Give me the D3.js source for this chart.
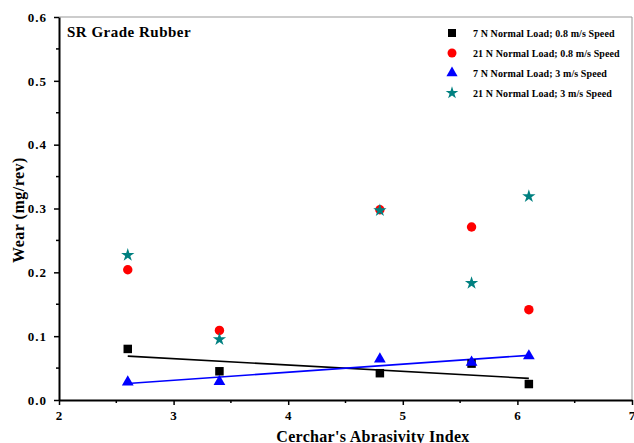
<!DOCTYPE html>
<html><head><meta charset="utf-8">
<script src="https://cdn.jsdelivr.net/npm/d3@7"></script>
<style>body{margin:0;background:#fff}svg{display:block}text{font-family:"Liberation Serif","Times New Roman",serif;font-weight:bold}</style>
</head><body>
<svg id="c" width="634" height="443"></svg>
<script>
const cai = [2.6, 3.4, 4.8, 5.6, 6.1];
const load7_08 = [0.080, 0.045, 0.042, 0.057, 0.025];
const load21_08 = [0.204, 0.109, 0.298, 0.271, 0.1415];
const load7_3 = [0.028, 0.029, 0.064, 0.059, 0.069];
const load21_3 = [0.227, 0.095, 0.297, 0.183, 0.319];
const xTicks = [2, 3, 4, 5, 6, 7];
const yTicks = [0.0, 0.1, 0.2, 0.3, 0.4, 0.5, 0.6];
const seriesNames = ["7 N Normal Load; 0.8 m/s Speed", "21 N Normal Load; 0.8 m/s Speed", "7 N Normal Load; 3 m/s Speed", "21 N Normal Load; 3 m/s Speed"];

const svg = d3.select("#c");
const L = 59, R = 632, T = 17, B = 400;
const x = d3.scaleLinear().domain([2, 7]).range([L, R]);
const y = d3.scaleLinear().domain([0, 0.6]).range([B, T]);

// frame top/right
svg.append("line").attr("x1", L).attr("x2", R).attr("y1", T).attr("y2", T).attr("stroke", "#999").attr("stroke-width", 1);
svg.append("line").attr("x1", R).attr("x2", R).attr("y1", T).attr("y2", B).attr("stroke", "#999").attr("stroke-width", 1);

// minor ticks
const g = svg.append("g");
d3.range(2.5, 7, 1).forEach(v => g.append("line").attr("x1", x(v)).attr("x2", x(v)).attr("y1", B).attr("y2", B + 3).attr("stroke", "#000").attr("stroke-width", 1.5));
d3.range(0.05, 0.6, 0.1).forEach(v => g.append("line").attr("x1", L).attr("x2", L - 3).attr("y1", y(v)).attr("y2", y(v)).attr("stroke", "#000").attr("stroke-width", 1.5));

const xa = svg.append("g").attr("transform", `translate(0,${B})`)
  .call(d3.axisBottom(x).tickValues(xTicks).tickFormat(d3.format("d")).tickSize(5).tickSizeOuter(0).tickPadding(6));
const ya = svg.append("g").attr("transform", `translate(${L},0)`)
  .call(d3.axisLeft(y).tickValues(yTicks).tickFormat(d3.format(".1f")).tickSize(5).tickSizeOuter(0).tickPadding(7));
[xa, ya].forEach(a => {
  a.select(".domain").attr("stroke", "#000").attr("stroke-width", 2);
  a.selectAll(".tick line").attr("stroke", "#000").attr("stroke-width", 1.5);
  a.selectAll("text").attr("font-family", "Liberation Serif, serif").attr("font-weight", "bold").attr("font-size", 13).attr("letter-spacing", 1).attr("fill", "#000");
});

// axis titles
svg.append("text").attr("x", 373).attr("y", 442).attr("text-anchor", "middle").attr("font-size", 16).attr("letter-spacing", 0.3).text("Cerchar's Abrasivity Index");
svg.append("text").attr("transform", "translate(24,210) rotate(-90)").attr("text-anchor", "middle").attr("font-size", 16).attr("letter-spacing", 0.5).text("Wear (mg/rev)");
svg.append("text").attr("x", 67).attr("y", 37).attr("font-size", 15).attr("letter-spacing", 0.5).text("SR Grade Rubber");

// linear fits
function fit(xs, ys) {
  const mx = d3.mean(xs), my = d3.mean(ys);
  const sxy = d3.sum(xs.map((v, i) => (v - mx) * (ys[i] - my)));
  const sxx = d3.sum(xs.map(v => (v - mx) ** 2));
  const b = sxy / sxx, a = my - b * mx;
  const x0 = d3.min(xs), x1 = d3.max(xs);
  return [[x0, a + b * x0], [x1, a + b * x1]];
}
const line = d3.line().x(d => x(d[0])).y(d => y(d[1]));
svg.append("path").attr("d", line(fit(cai, load7_08))).attr("stroke", "#000").attr("stroke-width", 1.6).attr("fill", "none");
svg.append("path").attr("d", line(fit(cai, load7_3))).attr("stroke", "#0000ff").attr("stroke-width", 1.6).attr("fill", "none");

const syms = [
  {data: load7_08, type: d3.symbolSquare, size: 72, color: "#000"},
  {data: load21_08, type: d3.symbolCircle, size: 70, color: "#ff0000"},
  {data: load7_3, type: d3.symbolTriangle, size: 60, color: "#0000ff"},
  {data: load21_3, type: d3.symbolStar, size: 55, color: "#008080"}
];
syms.forEach(s => {
  svg.append("g").selectAll("path").data(cai).join("path")
    .attr("transform", (d, i) => `translate(${x(d)},${y(s.data[i])})`)
    .attr("d", d3.symbol().type(s.type).size(s.size)())
    .attr("fill", s.color);
});

// legend
syms.forEach((s, i) => {
  const yy = 33 + i * 20;
  svg.append("path").attr("transform", `translate(452,${yy})`).attr("d", d3.symbol().type(s.type).size(s.size * 0.9)()).attr("fill", s.color);
  svg.append("text").attr("x", 473).attr("y", yy + 4).attr("font-size", 10).attr("letter-spacing", 0.1).text(seriesNames[i]);
});
</script>
</body></html>
